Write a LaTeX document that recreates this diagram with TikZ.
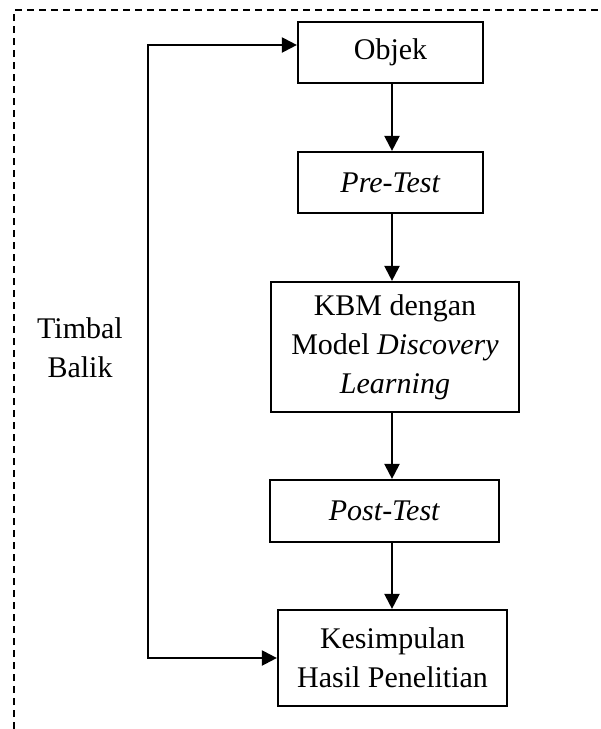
\documentclass[tikz,border=0pt]{standalone}
\usepackage{fontspec}
\setmainfont{Liberation Serif}
\usetikzlibrary{arrows.meta}
\begin{document}
\begin{tikzpicture}[x=1pt,y=-1pt,
  box/.style={draw,line width=2.2pt,inner sep=0pt,align=center,font=\fontsize{30}{39}\selectfont},
  lbl/.style={inner sep=0pt,align=center,font=\fontsize{30}{39}\selectfont},
  arr/.style={line width=2.2pt,-{Triangle[length=15pt,width=15pt]}},
  farr/.style={line width=2.2pt,{Triangle[length=15pt,width=15pt]}-{Triangle[length=15pt,width=15pt]}},
  frame/.style={line width=2pt,dash pattern=on 7pt off 5pt}]
\useasboundingbox (0,0) rectangle (601,729);
% dashed frame (only top and left edges visible)
\coordinate (fr1) at (14,729);
\coordinate (fr2) at (14,10);
\coordinate (fr3) at (605,10);
\draw[frame] (fr1) -- (fr2) -- (fr3);
% boxes
\node[box,minimum width=185pt,minimum height=61pt] (obj) at (390.5,52.5) {Objek};
\node[box,minimum width=185pt,minimum height=61pt] (pre) at (390.5,182.5) {\textit{Pre-Test}};
\node[box,minimum width=248pt,minimum height=130pt] (kbm) at (395,347) {KBM dengan\\Model \textit{Discovery}\\\textit{Learning}};
\node[box,minimum width=229pt,minimum height=62pt] (post) at (384.5,511) {\textit{Post-Test}};
\node[box,minimum width=229pt,minimum height=96pt] (kes) at (392.5,658) {Kesimpulan\\Hasil Penelitian};
\node[lbl] (tb) at (80,348) {Timbal\\Balik};
% spine
\coordinate (sp) at (392,0);
\draw[arr] (obj.south -| sp) -- (pre.north -| sp);
\draw[arr] (pre.south -| sp) -- (kbm.north -| sp);
\draw[arr] (kbm.south -| sp) -- (post.north -| sp);
\draw[arr] (post.south -| sp) -- (kes.north -| sp);
% feedback
\coordinate (fb) at (148,45);
\draw[farr] (kes.west) -- (kes.west -| fb) -- (fb) -- (obj.west |- fb);
\end{tikzpicture}
\end{document}
